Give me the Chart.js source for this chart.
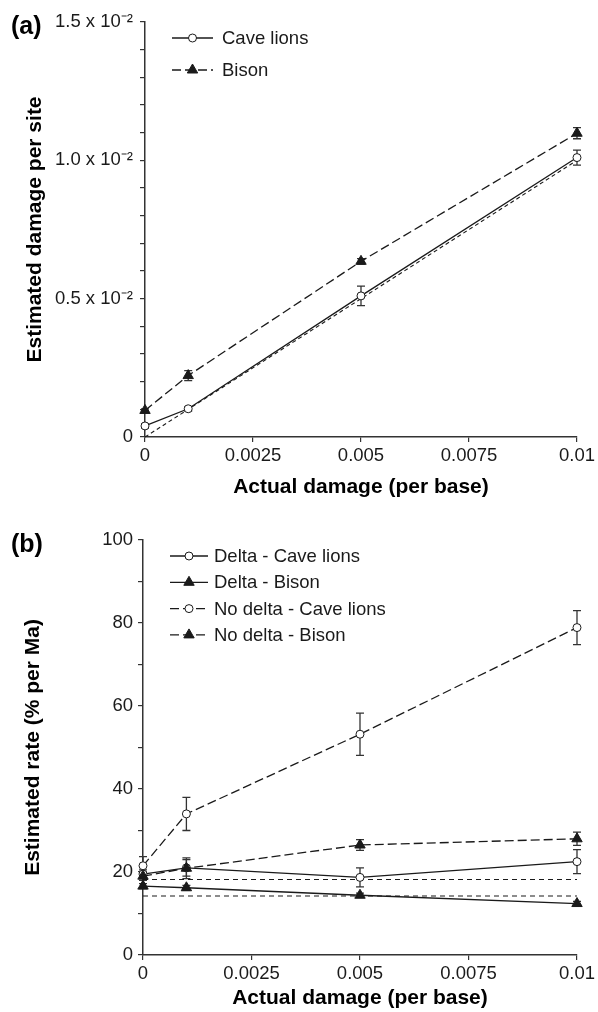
<!DOCTYPE html>
<html><head><meta charset="utf-8">
<script src="https://cdn.jsdelivr.net/npm/chart.js@4.4.0/dist/chart.umd.min.js"></script>
<style>
html,body{margin:0;padding:0;background:#fff;}
#wrap{position:relative;width:598px;height:1012px;overflow:hidden;}
.c{position:absolute;left:0;width:598px;}
</style></head><body>
<div id="wrap">
<div class="c" style="top:0;height:500px"><canvas id="ca"></canvas></div>
<div class="c" style="top:500px;height:512px"><canvas id="cb"></canvas></div>
</div>
<script>
// ---- shared x values ----
const xValues = [0, 0.001, 0.005, 0.01];
const xTickValues = [0, 0.0025, 0.005, 0.0075, 0.01];
const xTickLabels = ['0', '0.0025', '0.005', '0.0075', '0.01'];

// ---- panel (a) ----
const caveLionsA = [0.00040, 0.00102, 0.00510, 0.01010];
const caveLionsAErr = [0.00008, 0.00008, 0.00035, 0.00027];
const bisonA = [0.00096, 0.00222, 0.00635, 0.01098];
const bisonAErr = [0.00006, 0.00018, 0.00010, 0.00020];
const expectedA = [0, 0.01];
const expectedAX = [0, 0.01];
const yTickValuesA = [0, 0.001, 0.002, 0.003, 0.004, 0.005, 0.006, 0.007, 0.008, 0.009, 0.010, 0.011, 0.012, 0.013, 0.014, 0.015];
const yMajorTicksA = [0, 0.005, 0.01, 0.015];
const yMajorLabelsA = ['0', '0.5 x 10\u207B\u00B2', '1.0 x 10\u207B\u00B2', '1.5 x 10\u207B\u00B2'];

// ---- panel (b) ----
const deltaCaveLions = [19.5, 21.0, 18.7, 22.5];
const deltaCaveLionsErr = [1.0, 2.0, 2.3, 2.9];
const deltaBison = [16.6, 16.2, 14.4, 12.4];
const deltaBisonErr = [0.6, 0.6, 0.5, 0.5];
const noDeltaCaveLions = [21.5, 34.0, 53.2, 78.9];
const noDeltaCaveLionsErr = [2.2, 4.0, 5.1, 4.1];
const noDeltaBison = [19.0, 20.9, 26.5, 28.0];
const noDeltaBisonErr = [1.0, 2.5, 1.3, 1.6];
const trueRateCaveLions = [18.2, 18.2];
const trueRateBison = [14.2, 14.2];
const trueRateX = [0, 0.01];
const yTickValuesB = [0, 10, 20, 30, 40, 50, 60, 70, 80, 90, 100];
const yMajorTicksB = [0, 20, 40, 60, 80, 100];
const yMajorLabelsB = ['0', '20', '40', '60', '80', '100'];

const FONT = '"Liberation Sans", Arial, Helvetica, sans-serif';
const INK = '#1a1a1a';
const AXIS = '#333';

function pts(xs, ys) { return xs.map((x, i) => ({x: x, y: ys[i]})); }
function majorLabel(v, majors, labels) {
  for (let i = 0; i < majors.length; i++) if (Math.abs(v - majors[i]) < 1e-9) return labels[i];
  return '';
}

function lineDs(label, xs, ys, errs, opts) {
  return Object.assign({
    label: label,
    data: pts(xs, ys),
    errors: errs,
    borderColor: INK,
    borderWidth: 1.3,
    pointBorderColor: INK,
    pointBorderWidth: 1,
    pointHoverRadius: 0,
    fill: false,
    tension: 0,
    clip: false,
    inLegend: true
  }, opts);
}
const circle = {pointStyle: 'circle', pointRadius: 4, pointBackgroundColor: '#fff', order: 2};
const triangle = {pointStyle: 'triangle', pointRadius: 6, pointBackgroundColor: INK, order: 1};

const errorBarPlugin = {
  id: 'errbars',
  beforeDatasetsDraw(chart) {
    const ctx = chart.ctx;
    const xs = chart.scales.x, ys = chart.scales.y;
    ctx.save();
    ctx.strokeStyle = AXIS;
    ctx.lineWidth = 1.3;
    chart.data.datasets.forEach(ds => {
      if (!ds.errors) return;
      ds.data.forEach((p, i) => {
        const e = ds.errors[i];
        const px = xs.getPixelForValue(p.x);
        const y1 = ys.getPixelForValue(p.y + e), y2 = ys.getPixelForValue(p.y - e);
        ctx.beginPath();
        ctx.moveTo(px, y1); ctx.lineTo(px, y2);
        ctx.moveTo(px - 4, y1); ctx.lineTo(px + 4, y1);
        ctx.moveTo(px - 4, y2); ctx.lineTo(px + 4, y2);
        ctx.stroke();
      });
    });
    ctx.restore();
  }
};

const customLegendPlugin = {
  id: 'customLegend',
  afterDraw(chart, args, o) {
    const ctx = chart.ctx;
    ctx.save();
    ctx.font = '18.5px ' + FONT;
    ctx.textBaseline = 'middle';
    let i = 0;
    chart.data.datasets.forEach(ds => {
      if (!ds.inLegend) return;
      const y = o.y + i * o.dy;
      const cx = o.x + o.len / 2;
      ctx.strokeStyle = INK;
      ctx.lineWidth = 1.3;
      ctx.setLineDash(ds.borderDash || []);
      ctx.beginPath();
      ctx.moveTo(o.x, y); ctx.lineTo(o.x + o.len, y);
      ctx.stroke();
      ctx.setLineDash([]);
      ctx.fillStyle = ds.pointBackgroundColor;
      ctx.strokeStyle = INK;
      ctx.lineWidth = 1;
      Chart.helpers.drawPoint(ctx, {
        pointStyle: ds.pointStyle, radius: ds.pointRadius, borderWidth: 1, rotation: 0
      }, cx, y);
      ctx.fillStyle = INK;
      ctx.fillText(ds.label, o.x + o.len + o.gap, y + 1);
      i++;
    });
    ctx.restore();
  }
};

const panelLabelPlugin = {
  id: 'panelLabel',
  afterDraw(chart, args, o) {
    const ctx = chart.ctx;
    ctx.save();
    ctx.font = 'bold 25px ' + FONT;
    ctx.fillStyle = '#000';
    ctx.textBaseline = 'middle';
    ctx.fillText(o.text, o.x, o.y);
    ctx.restore();
  }
};

function xScale(titleBottom, height) {
  return {
    type: 'linear', min: 0, max: 0.01,
    afterBuildTicks: s => { s.ticks = xTickValues.map(v => ({value: v})); },
    ticks: {
      callback: (v, i) => xTickLabels[i], autoSkip: false, maxRotation: 0,
      color: INK, font: {family: FONT, size: 18.5}, padding: 3
    },
    grid: {drawOnChartArea: false, tickLength: 5, color: AXIS, lineWidth: 1.2},
    border: {color: AXIS, width: 1.5},
    title: {display: true, text: 'Actual damage (per base)', color: '#000',
      font: {family: FONT, size: 21, weight: 'bold'}, padding: {top: 0, bottom: titleBottom}},
    afterFit: s => { s.height = height; }
  };
}

function yScale(max, tickVals, majors, labels, title, titleLeft, width, pad) {
  return {
    type: 'linear', min: 0, max: max,
    afterBuildTicks: s => { s.ticks = tickVals.map(v => ({value: v})); },
    ticks: {
      callback: v => majorLabel(v, majors, labels), autoSkip: false,
      color: INK, font: {family: FONT, size: 18.5}, padding: pad
    },
    grid: {drawOnChartArea: false, tickLength: 5, color: AXIS, lineWidth: 1.2},
    border: {color: AXIS, width: 1.5},
    title: {display: true, text: title, color: '#000',
      font: {family: FONT, size: 21, weight: 'bold'}, padding: {top: titleLeft, bottom: 0}},
    afterFit: s => { s.width = width; }
  };
}

const common = {
  responsive: true, maintainAspectRatio: false, animation: false, devicePixelRatio: 1,
  events: []
};

// ---- chart (a) ----
new Chart(document.getElementById('ca'), {
  type: 'line',
  data: {
    datasets: [
      lineDs('Cave lions', xValues, caveLionsA, caveLionsAErr, Object.assign({}, circle)),
      lineDs('Bison', xValues, bisonA, bisonAErr, Object.assign({borderDash: [9, 4]}, triangle)),
      lineDs('Expected', expectedAX, expectedA, null, {borderDash: [4, 3], pointRadius: 0, inLegend: false, borderWidth: 1.1, order: 3})
    ]
  },
  options: Object.assign({}, common, {
    layout: {padding: {top: 22, right: 18, left: 0, bottom: 0}},
    scales: {
      x: xScale(0, 63),
      y: yScale(0.015, yTickValuesA, yMajorTicksA, yMajorLabelsA, 'Estimated damage per site', 23, 145, 7)
    },
    plugins: {
      legend: {display: false}, tooltip: {enabled: false},
      customLegend: {x: 172, y: 38, dy: 32, len: 41, gap: 9},
      panelLabel: {text: '(a)', x: 11, y: 27}
    }
  }),
  plugins: [errorBarPlugin, customLegendPlugin, panelLabelPlugin]
});

// ---- chart (b) ----
new Chart(document.getElementById('cb'), {
  type: 'line',
  data: {
    datasets: [
      lineDs('Delta - Cave lions', xValues, deltaCaveLions, deltaCaveLionsErr, Object.assign({}, circle, {order: 3})),
      lineDs('Delta - Bison', xValues, deltaBison, deltaBisonErr, Object.assign({}, triangle)),
      lineDs('No delta - Cave lions', xValues, noDeltaCaveLions, noDeltaCaveLionsErr, Object.assign({borderDash: [9, 4]}, circle)),
      lineDs('No delta - Bison', xValues, noDeltaBison, noDeltaBisonErr, Object.assign({borderDash: [9, 4]}, triangle)),
      lineDs('True rate - Cave lions', trueRateX, trueRateCaveLions, null, {borderDash: [5, 4], pointRadius: 0, inLegend: false, borderWidth: 1.1, order: 4}),
      lineDs('True rate - Bison', trueRateX, trueRateBison, null, {borderDash: [5, 4], pointRadius: 0, inLegend: false, borderWidth: 1.1, order: 4})
    ]
  },
  options: Object.assign({}, common, {
    layout: {padding: {top: 40, right: 17, left: 0, bottom: 0}},
    scales: {
      x: xScale(1, 57),
      y: yScale(100, yTickValuesB, yMajorTicksB, yMajorLabelsB, 'Estimated rate (% per Ma)', 21, 143, 5)
    },
    plugins: {
      legend: {display: false}, tooltip: {enabled: false},
      customLegend: {x: 170, y: 56, dy: 26.3, len: 38, gap: 6},
      panelLabel: {text: '(b)', x: 11, y: 45}
    }
  }),
  plugins: [errorBarPlugin, customLegendPlugin, panelLabelPlugin]
});
</script>
</body></html>
